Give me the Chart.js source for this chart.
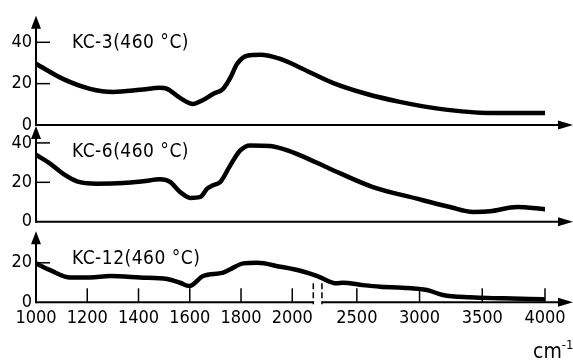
<!DOCTYPE html>
<html><head><meta charset="utf-8">
<script src="https://cdn.jsdelivr.net/npm/chart.js@4/dist/chart.umd.min.js"></script>
<style>html,body{margin:0;padding:0;background:#fff}#wrap{width:573px;height:361px}</style>
</head><body><div id="wrap"><canvas id="c" width="573" height="361"></canvas></div>
<script>
// ---- data ----
const panelLabels = ['KC-3(460 °C)', 'KC-6(460 °C)', 'KC-12(460 °C)'];
const kc3Wave = [1000,1105,1211,1301,1406,1484,1512,1562,1613,1652,1691,1730,1758,1785,1824,1875,1953,2031,2308,2580,2843,3162,3561,3825,4000];
const kc3Val  = [29.6,22.3,17.5,16.0,17.0,18.0,17.5,13.1,10.2,12.1,15.0,17.5,22.8,29.6,33.5,34.0,32.0,27.7,20.4,15.0,11.2,7.8,5.8,5.8,5.8];
const kc6Wave = [1000,1055,1105,1160,1238,1340,1418,1484,1523,1562,1602,1641,1668,1691,1719,1758,1797,1836,1914,1992,2031,2285,2628,2979,3242,3426,3561,3777,4000];
const kc6Val  = [34.0,29.5,24.4,20.5,19.3,19.6,20.5,21.5,20.2,15.1,12.1,12.6,16.8,18.5,20.2,28.6,36.2,38.7,38.4,35.7,33.7,26.9,17.6,11.7,7.5,5.0,5.3,7.5,6.3];
const kc12Wave = [1000,1055,1133,1211,1289,1406,1512,1562,1598,1652,1730,1758,1809,1863,1953,2031,2098,2340,2388,2548,2684,2867,3059,3186,3402,3666,3985];
const kc12Val  = [19.7,16.3,12.6,12.6,13.3,12.6,11.8,9.9,8.2,13.3,15.0,16.7,19.7,20.0,18.0,16.0,13.3,9.6,9.9,8.7,7.9,7.4,6.2,3.7,2.5,2.0,1.5];
const xTickValues = [1000,1200,1400,1600,1800,2000,2500,3000,3500,4000];
const yTickValues = [0,20,40];
const unitText = 'cm';
const unitSup = '-1';

// broken axis: 1000-2100 full scale, 2200-4000 compressed
function toAxis(w){
  if (w <= 2100) return w;
  if (w >= 2200) return 2105 + (w - 2200) * 0.4895;
  return 2100 + (w - 2100) * 0.05;
}
const mk = (ws, vs) => ws.map((w, i) => ({x: toAxis(w), y: vs[i]}));

const FONT = "'Liberation Sans Narrow','DejaVu Sans Condensed','Liberation Sans',sans-serif";

const lineDs = (label, data, axis) => ({
  label, data, yAxisID: axis, borderColor: '#000', borderWidth: 4.5,
  pointRadius: 0, fill: false, cubicInterpolationMode: 'monotone', borderCapStyle: 'round'
});

function yScale(min, max, weight){
  return {
    type: 'linear', position: 'left', stack: 'panels', stackWeight: weight, min, max,
    grid: {display: false, drawTicks: false}, border: {display: false},
    afterBuildTicks: s => { s.ticks = yTickValues.filter(v => v >= s.min && v <= s.max).map(v => ({value: v})); },
    afterFit: s => { s.width = 36; },
    ticks: {color: '#000', padding: 4, font: {family: FONT, size: 18}}
  };
}

const decor = {
  id: 'decor',
  afterDatasetsDraw(chart){
    const ctx = chart.ctx;
    const xs = chart.scales.x;
    const left = chart.chartArea.left;
    const ids = ['y1','y2','y3'];
    ctx.save();
    ctx.strokeStyle = '#000'; ctx.fillStyle = '#000'; ctx.lineCap = 'butt';
    ids.forEach((id, k) => {
      const s = chart.scales[id];
      const y0 = s.getPixelForValue(0);
      const tip = s.top + 1;
      ctx.lineWidth = 2;
      ctx.beginPath(); ctx.moveTo(left, y0 + 1); ctx.lineTo(left, tip + 10); ctx.stroke();
      ctx.beginPath(); ctx.moveTo(left, tip); ctx.lineTo(left - 5, tip + 13); ctx.lineTo(left + 5, tip + 13); ctx.closePath(); ctx.fill();
      ctx.lineWidth = 1.5;
      yTickValues.forEach(v => {
        if (v > 0 && v <= s.max) {
          const py = s.getPixelForValue(v);
          ctx.beginPath(); ctx.moveTo(left, py); ctx.lineTo(left + 14, py); ctx.stroke();
        }
      });
      ctx.lineWidth = 2;
      const endX = chart.width - 15;
      if (k < 2) {
        ctx.beginPath(); ctx.moveTo(left, y0); ctx.lineTo(endX, y0); ctx.stroke();
      } else {
        const b1 = xs.getPixelForValue(toAxis(2082));
        const b2 = xs.getPixelForValue(toAxis(2222));
        ctx.beginPath(); ctx.moveTo(left, y0); ctx.lineTo(b1, y0); ctx.stroke();
        ctx.beginPath(); ctx.moveTo(b2, y0); ctx.lineTo(endX, y0); ctx.stroke();
        ctx.lineWidth = 1.5; ctx.setLineDash([6, 3]);
        [b1, b2].forEach(bx => { ctx.beginPath(); ctx.moveTo(bx, y0 - 19); ctx.lineTo(bx, y0 + 2); ctx.stroke(); });
        ctx.setLineDash([]);
        ctx.lineWidth = 1.5;
        xTickValues.forEach(w => {
          if (w === 1000) return;
          const px = xs.getPixelForValue(toAxis(w));
          ctx.beginPath(); ctx.moveTo(px, y0); ctx.lineTo(px, y0 - 14); ctx.stroke();
        });
      }
      ctx.beginPath(); ctx.moveTo(chart.width, y0); ctx.lineTo(endX, y0 - 4.5); ctx.lineTo(endX, y0 + 4.5); ctx.closePath(); ctx.fill();
      ctx.font = '19px ' + FONT;
      ctx.textBaseline = 'middle'; ctx.textAlign = 'left';
      if ('letterSpacing' in ctx) ctx.letterSpacing = '0.5px';
      const ly = [43.5, 152, 259.5][k];
      ctx.fillText(chart.data.datasets[k].label, 72, ly);
      if ('letterSpacing' in ctx) ctx.letterSpacing = '0px';
    });
    ctx.textBaseline = 'alphabetic'; ctx.textAlign = 'left';
    ctx.font = '21px ' + FONT;
    ctx.fillText(unitText, 533, 358);
    const w = ctx.measureText(unitText).width;
    ctx.font = '13px ' + FONT;
    ctx.fillText(unitSup, 533 + w, 349);
    ctx.restore();
  }
};

new Chart(document.getElementById('c'), {
  type: 'line',
  data: {
    datasets: [
      lineDs(panelLabels[0], mk(kc3Wave, kc3Val), 'y1'),
      lineDs(panelLabels[1], mk(kc6Wave, kc6Val), 'y2'),
      lineDs(panelLabels[2], mk(kc12Wave, kc12Val), 'y3')
    ]
  },
  options: {
    responsive: false, animation: false, devicePixelRatio: 1,
    layout: {padding: {left: 0, right: 28, top: 12, bottom: 0}},
    plugins: {legend: {display: false}, tooltip: {enabled: false}},
    scales: {
      x: {
        type: 'linear', min: 1000, max: toAxis(4000),
        grid: {display: false, drawTicks: false}, border: {display: false},
        afterBuildTicks: s => { s.ticks = xTickValues.map(v => ({value: toAxis(v)})); },
        afterFit: s => { s.height = 58.7; },
        ticks: {color: '#000', padding: 5, maxRotation: 0, autoSkip: false,
          font: {family: FONT, size: 18},
          callback: (v, i) => String(xTickValues[i])}
      },
      y3: yScale(0, 36.5, 72.3),
      y2: yScale(-4.3, 49.1, 105.5),
      y1: yScale(0, 53.3, 110.5)
    }
  },
  plugins: [decor]
});
</script></body></html>
